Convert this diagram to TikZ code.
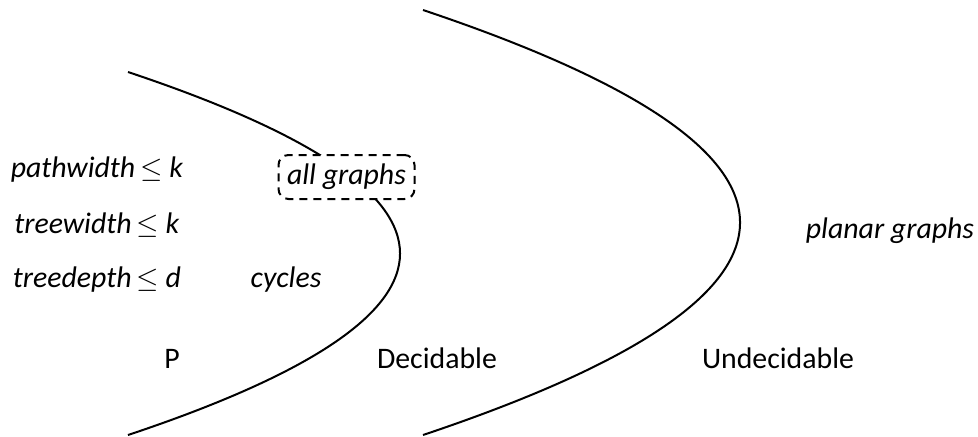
\documentclass[tikz,border=0pt]{standalone}
\usepackage{fontspec}
\setmainfont{Carlito}
\begin{document}
\begin{tikzpicture}[x=0.5pt,y=-0.5pt,
  lbl/.style={inner sep=0pt, anchor=base, font=\fontsize{14.9}{17}\selectfont},
  curve/.style={line width=1pt, black},
  dbox/.style={draw, dashed, dash pattern=on 4pt off 3pt, line width=1pt, rounded corners=5pt,
    fill=white, minimum width=68pt, minimum height=22pt, inner sep=0pt,
    font=\fontsize{14.9}{17}\selectfont}]
\useasboundingbox (0,0) rectangle (978,436);
% boundaries
\coordinate (l1) at (128,72);
\coordinate (l2) at (128,435);
\coordinate (r1) at (423,10);
\coordinate (r2) at (423,435);
\draw[curve] (l1) .. controls (490.7,193) and (490.7,314) .. (l2);
\draw[curve] (r1) .. controls (845.7,151.7) and (845.7,293.3) .. (r2);
% labels
\node[dbox] (all) at (346.5,177) {\textit{all graphs}};
\node[lbl] (pw) at (97,177) {\textit{pathwidth}\,$\leq$ \textit{k}};
\node[lbl] (tw) at (97,233) {\textit{treewidth}\,$\leq$ \textit{k}};
\node[lbl] (td) at (97,287) {\textit{treedepth}\,$\leq$ \textit{d}};
\node[lbl] (cy) at (286,287) {\textit{cycles}};
\node[lbl] (pl) at (890,238) {\textit{planar graphs}};
\node[lbl] (p) at (172,368) {P};
\node[lbl] (dec) at (437,368) {Decidable};
\node[lbl] (und) at (778,368) {Undecidable};
\end{tikzpicture}
\end{document}
